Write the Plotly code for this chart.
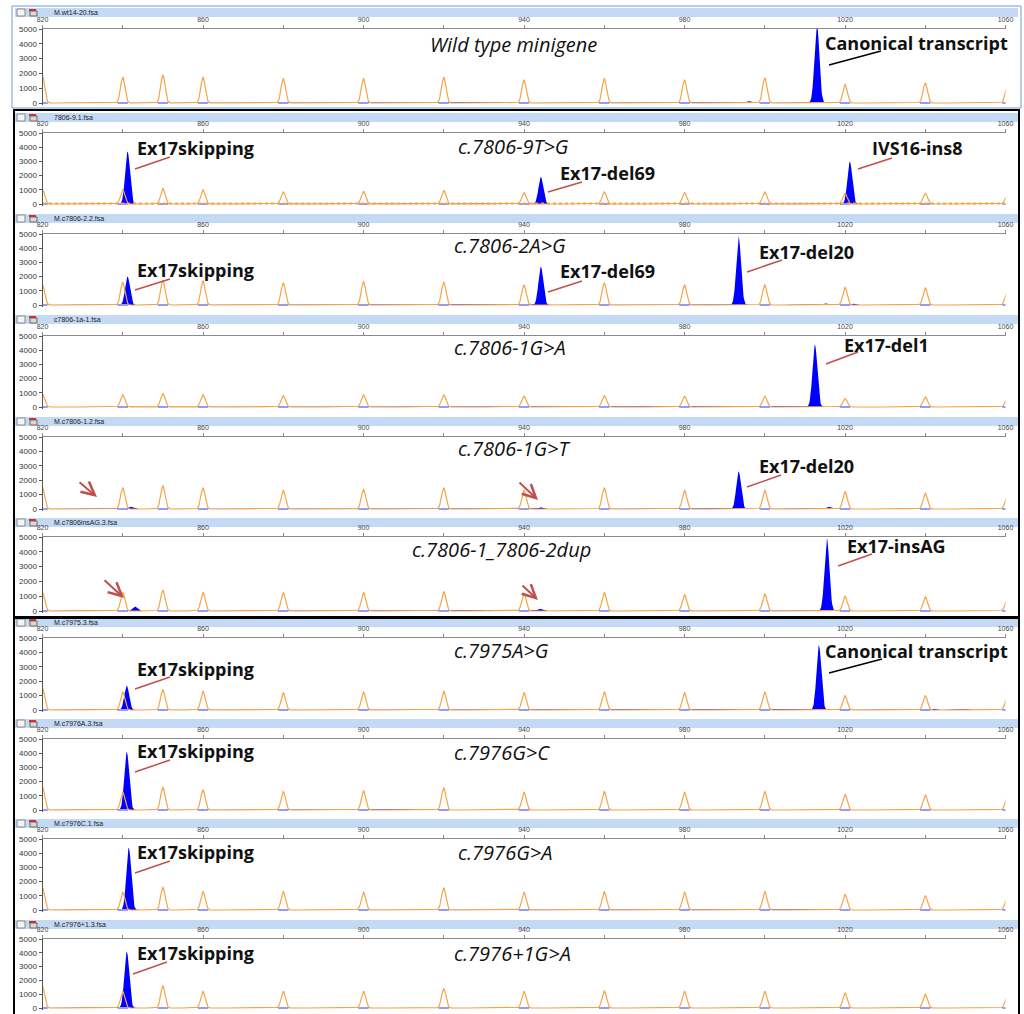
import numpy as np
import plotly.graph_objects as go

# ---------------- data ----------------
sample_files = ["M.wt14-20.fsa", "7806-9.1.fsa", "M.c7806-2.2.fsa", "c7806-1a-1.fsa",
                "M.c7806-1.2.fsa", "M.c7806insAG.3.fsa", "M.c7975.3.fsa", "M.c7976A.3.fsa",
                "M.c7976C.1.fsa", "M.c7976+1.3.fsa"]
sample_titles = ["Wild type minigene", "c.7806-9T>G", "c.7806-2A>G", "c.7806-1G>A",
                 "c.7806-1G>T", "c.7806-1_7806-2dup", "c.7975A>G", "c.7976G>C",
                 "c.7976G>A", "c.7976+1G>A"]

size_std_bp = [820, 840, 850, 860, 880, 900, 920, 940, 960, 980, 1000, 1020, 1040, 1060.5]
size_std_height = [
    [1800, 1750, 1900, 1750, 1650, 1650, 1750, 1550, 1650, 1550, 1700, 1250, 1350, 1300],
    [1000, 1000, 1100, 1000, 850, 900, 950, 800, 850, 800, 850, 750, 750, 700],
    [1400, 1600, 1750, 1700, 1550, 1650, 1600, 1400, 1550, 1400, 1400, 1250, 1200, 1100],
    [900, 850, 950, 850, 800, 850, 850, 750, 800, 750, 750, 600, 700, 650],
    [1450, 1450, 1600, 1450, 1300, 1350, 1450, 1300, 1450, 1300, 1300, 1200, 1100, 1000],
    [1250, 1250, 1400, 1250, 1250, 1250, 1300, 1200, 1250, 1100, 1150, 1000, 950, 900],
    [1500, 1250, 1400, 1300, 1200, 1250, 1300, 1200, 1250, 1200, 1250, 1000, 1000, 950],
    [1600, 1250, 1600, 1400, 1300, 1350, 1550, 1250, 1300, 1250, 1300, 1100, 1050, 1000],
    [1550, 1250, 1600, 1300, 1300, 1250, 1550, 1250, 1300, 1250, 1300, 1100, 1000, 950],
    [1550, 1200, 1600, 1200, 1200, 1200, 1400, 1200, 1250, 1200, 1200, 1100, 1000, 950],
]

product_bp = [
    [934, 996, 1013],
    [841.2, 944.2, 1021.2],
    [841.2, 944.2, 993.5, 1015, 1022],
    [1012.5, 1020],
    [842, 944, 993.5, 1016],
    [838, 843, 944, 1015.5],
    [841, 1013.5, 1042, 1050],
    [841, 918],
    [841.5, 1018],
    [841],
]
product_height = [
    [60, 120, 5400],
    [3700, 1900, 3000],
    [2000, 2700, 4800, 120, 90],
    [4400, 60],
    [150, 110, 2600, 150],
    [60, 300, 150, 4900],
    [1700, 4500, 80, 80],
    [4100, 80],
    [4400, 80],
    [4100],
]

peak_labels = [
    ["Canonical transcript"],
    ["Ex17skipping", "Ex17-del69", "IVS16-ins8"],
    ["Ex17skipping", "Ex17-del69", "Ex17-del20"],
    ["Ex17-del1"],
    ["Ex17-del20"],
    ["Ex17-insAG"],
    ["Ex17skipping", "Canonical transcript"],
    ["Ex17skipping"],
    ["Ex17skipping"],
    ["Ex17skipping"],
]

y_ticks = [0, 1000, 2000, 3000, 4000, 5000]
x_ticks = [820, 840, 860, 880, 900, 920, 940, 960, 980, 1000, 1020, 1040, 1060]

# ---------------- layout geometry (pixels) ----------------
W, H = 1024, 1014
header_top = [8, 113, 214, 315, 417, 518, 618, 719, 819, 920]
plot_top = [29, 133, 234, 336, 437, 537, 638, 739, 839, 939]
plot_zero = [103, 204, 305, 407, 509, 611, 710, 810, 910, 1008]
title_pos = [(428, 44), (456, 147), (452, 245), (452, 347), (456, 448), (410, 549),
             (452, 650), (452, 752), (456, 852), (452, 953)]
# (text left, text center y, line x0, y0, x1, y1, color)
label_pos = [
    [(823, 43, 829, 65, 881, 51, "black")],
    [(135, 148, 135, 169, 170, 157, "#c0504d"), (558, 173, 548, 192, 582, 182, "#c0504d"),
     (870, 148, 858, 169, 892, 158, "#c0504d")],
    [(135, 270, 135, 290, 170, 279, "#c0504d"), (558, 271, 548, 292, 582, 281, "#c0504d"),
     (757, 252, 747, 272, 782, 260, "#c0504d")],
    [(842, 345, 826, 364, 858, 352, "#c0504d")],
    [(757, 466, 747, 487, 781, 475, "#c0504d")],
    [(845, 546, 838, 566, 872, 554, "#c0504d")],
    [(135, 669, 135, 689, 170, 677, "#c0504d"), (823, 651, 829, 673, 882, 659, "black")],
    [(135, 751, 135, 772, 170, 760, "#c0504d")],
    [(135, 852, 135, 873, 170, 861, "#c0504d")],
    [(135, 953, 133, 974, 167, 962, "#c0504d")],
]
arrows = [(97, 497, 78, 481), (538, 500, 518, 481), (124, 598, 103, 579), (538, 600, 521, 584)]

ORANGE = "#f4a546"
BLUE = "#0000ff"
LAV = "#9a9af2"


def px(x):
    return x / W


def py(y):
    return 1 - y / H


xgrid = np.round(np.arange(818.0, 1062.01, 0.1), 2)


def peaks(centers, heights, sigma):
    y = np.zeros_like(xgrid)
    for c, h in zip(centers, heights):
        y += h * np.exp(-0.5 * ((xgrid - c) / sigma) ** 2)
    return y


fig = go.Figure()
shapes = []
annotations = []
layout_axes = {}

for i in range(10):
    sfx = "" if i == 0 else str(i + 1)
    top, zero = plot_top[i], plot_zero[i]
    ymin = -5000 * 2.0 / (zero - top)
    layout_axes["xaxis" + sfx] = dict(
        domain=[px(42.5), px(1005.5)], range=[820, 1060], anchor="y" + sfx, side="top",
        showline=True, linecolor="#8a8a8a", linewidth=1, showgrid=False, zeroline=False,
        tickmode="array", tickvals=x_ticks,
        ticktext=[str(v) if (v - 820) % 40 == 0 else "" for v in x_ticks],
        ticks="outside", ticklen=3, tickcolor="#8a8a8a", automargin=False,
        tickfont=dict(family="Liberation Sans", size=7, color="#444"), fixedrange=True)
    layout_axes["yaxis" + sfx] = dict(
        domain=[py(zero + 2), py(top)], range=[ymin, 5000], anchor="x" + sfx,
        showline=True, linecolor="#555", linewidth=1, showgrid=False, zeroline=False,
        tickmode="array", tickvals=y_ticks, ticks="outside", ticklen=3, tickcolor="#555",
        automargin=False,
        tickfont=dict(family="Liberation Sans", size=8, color="#333"), fixedrange=True)

    xa, ya = "x" + sfx, "y" + sfx
    # products (blue, filled)
    fig.add_trace(go.Scatter(x=xgrid, y=peaks(product_bp[i], product_height[i], 0.6),
                             mode="lines", line=dict(color=BLUE, width=0), fill="tozeroy",
                             fillcolor=BLUE, xaxis=xa, yaxis=ya, hoverinfo="skip",
                             showlegend=False))
    # size standard (orange)
    fig.add_trace(go.Scatter(x=xgrid, y=peaks(size_std_bp, size_std_height[i], 0.55),
                             mode="lines", line=dict(color=ORANGE, width=1.2),
                             xaxis=xa, yaxis=ya, hoverinfo="skip", showlegend=False))
    # blue crosstalk under size standard peaks
    sx, sy = [], []
    for c in size_std_bp:
        sx += [c - 1.3, c + 1.3, None]
        sy += [0, 0, None]
    fig.add_trace(go.Scatter(x=sx, y=sy, mode="lines", line=dict(color=LAV, width=2),
                             xaxis=xa, yaxis=ya, hoverinfo="skip", showlegend=False))

    # header bar
    ht = header_top[i]
    shapes.append(dict(type="rect", xref="paper", yref="paper", x0=px(15), x1=px(1018),
                       y0=py(ht + 9), y1=py(ht), fillcolor="#c3d9f4", line=dict(width=0),
                       layer="below"))
    shapes.append(dict(type="rect", xref="paper", yref="paper", x0=px(17), x1=px(25),
                       y0=py(ht + 8), y1=py(ht + 1), fillcolor="#f4f4f4",
                       line=dict(color="#8a8a8a", width=1)))
    shapes.append(dict(type="rect", xref="paper", yref="paper", x0=px(30), x1=px(37),
                       y0=py(ht + 8), y1=py(ht + 3), fillcolor="#d9d9d9",
                       line=dict(color="#666", width=1)))
    shapes.append(dict(type="line", xref="paper", yref="paper", x0=px(29), x1=px(36),
                       y0=py(ht + 2), y1=py(ht + 2), line=dict(color="#d03030", width=2)))
    annotations.append(dict(text=sample_files[i], xref="paper", yref="paper", x=px(52),
                            y=py(ht + 4.5), xanchor="left", yanchor="middle", showarrow=False,
                            font=dict(family="Liberation Sans", size=7, color="#222")))
    # title
    tx, ty = title_pos[i]
    annotations.append(dict(text="<i>" + sample_titles[i] + "</i>", xref="paper", yref="paper",
                            x=px(tx), y=py(ty), xanchor="left", yanchor="middle",
                            showarrow=False,
                            font=dict(family="Open Sans", size=20, color="#111")))
    # peak labels
    for txt, (lx, ly, x0, y0, x1, y1, col) in zip(peak_labels[i], label_pos[i]):
        annotations.append(dict(text="<b>" + txt + "</b>", xref="paper", yref="paper",
                                x=px(lx), y=py(ly), xanchor="left", yanchor="middle",
                                showarrow=False,
                                font=dict(family="Open Sans", size=18, color="#111")))
        shapes.append(dict(type="line", xref="paper", yref="paper", x0=px(x0), y0=py(y0),
                           x1=px(x1), y1=py(y1), line=dict(color=col, width=1.5)))

# noisy-looking baseline of sample 2
shapes.append(dict(type="line", xref="paper", yref="paper", x0=px(43), x1=px(1005),
                   y0=py(203.5), y1=py(203.5), line=dict(color=ORANGE, width=2, dash="dot")))

# arrows
for (x, y, axp, ayp) in arrows:
    annotations.append(dict(text="", xref="paper", yref="paper", x=px(x), y=py(y),
                            ax=axp - x, ay=ayp - y, showarrow=True, arrowhead=5,
                            arrowsize=1.3, arrowwidth=2, arrowcolor="#c0504d"))

# frames
shapes.append(dict(type="rect", xref="paper", yref="paper", x0=px(12), x1=px(1021),
                   y0=py(108), y1=py(6), line=dict(color="#6f9bd6", width=1)))
shapes.append(dict(type="rect", xref="paper", yref="paper", x0=px(14), x1=px(1019),
                   y0=py(617), y1=py(110), line=dict(color="black", width=2)))
shapes.append(dict(type="rect", xref="paper", yref="paper", x0=px(14), x1=px(1019),
                   y0=py(1016), y1=py(618), line=dict(color="black", width=2)))

fig.update_layout(width=W, height=H, margin=dict(l=0, r=0, t=0, b=0),
                  paper_bgcolor="white", plot_bgcolor="white", shapes=shapes,
                  annotations=annotations, **layout_axes)

fig.write_html("out.html", config={"displayModeBar": False},
               post_script="document.body.style.margin='0';document.body.style.padding='0';"
                           "document.body.style.overflow='hidden';")
